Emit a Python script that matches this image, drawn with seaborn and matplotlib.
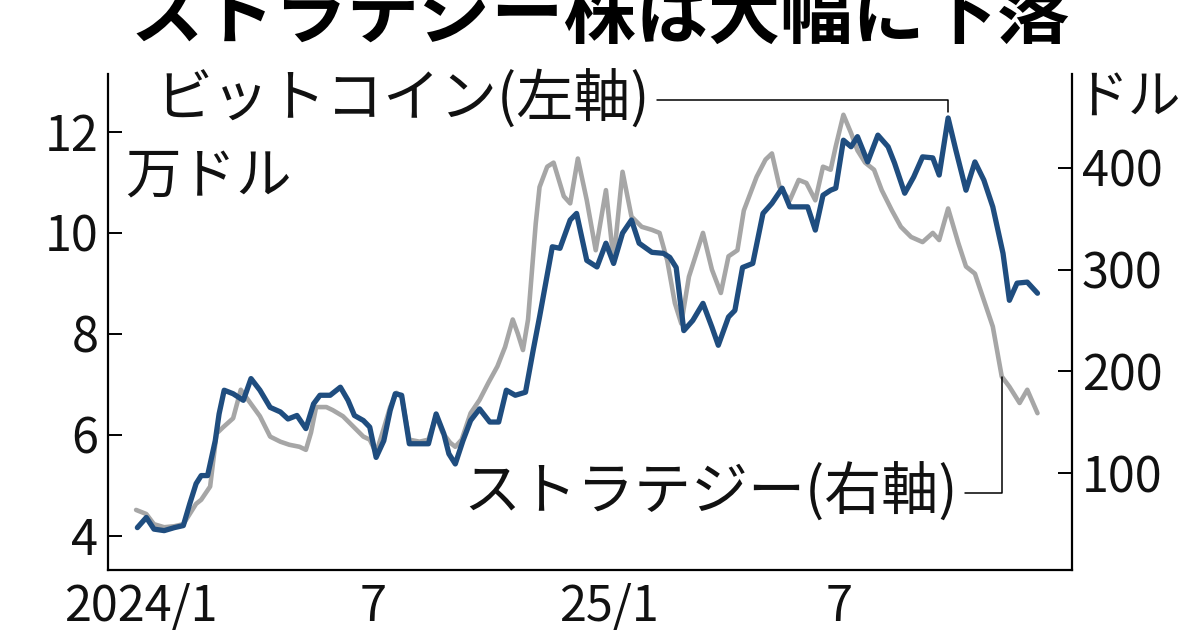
import numpy as np
import pandas as pd
import matplotlib
matplotlib.use("Agg")
import matplotlib.pyplot as plt
import seaborn as sns

# ---- data ----
base_date = "2024-01-01"
# Bitcoin (left axis, 10k USD): day offset from base_date, value
btc_day = [-3, 4, 10, 18, 26, 33, 38, 43, 47, 52,
           58, 61, 65, 72, 80, 86, 93, 101, 109, 115,
           122, 129, 135, 140, 148, 156, 162, 167, 174, 179,
           184, 190, 195, 199, 204, 210, 218, 225, 231, 237,
           241, 246, 252, 258, 265, 273, 280, 286, 293, 301,
           307, 312, 322, 328, 336, 341, 349, 357, 364, 370,
           377, 384, 390, 400, 409, 414, 419, 425, 432, 440,
           447, 452, 460, 465, 471, 479, 487, 494, 502, 508,
           516, 522, 528, 534, 540, 544, 550, 556, 561, 569,
           577, 585, 590, 598, 605, 612, 620, 625, 632, 638,
           646, 653, 660, 667, 675, 680, 686, 694, 702]
btc_val = [4.16, 4.36, 4.13, 4.10, 4.16, 4.20, 4.63, 5.03, 5.19, 5.19,
           5.88, 6.41, 6.88, 6.81, 6.68, 7.11, 6.88, 6.54, 6.45, 6.31,
           6.38, 6.12, 6.61, 6.78, 6.78, 6.94, 6.68, 6.38, 6.28, 6.15,
           5.55, 5.88, 6.48, 6.81, 6.78, 5.82, 5.82, 5.82, 6.41, 6.02,
           5.62, 5.42, 5.88, 6.28, 6.51, 6.25, 6.25, 6.88, 6.78, 6.84,
           7.67, 8.33, 9.72, 9.69, 10.25, 10.38, 9.45, 9.32, 9.79, 9.39,
           9.99, 10.25, 9.79, 9.61, 9.59, 9.51, 9.31, 8.06, 8.26, 8.60,
           8.13, 7.77, 8.33, 8.46, 9.31, 9.39, 10.38, 10.58, 10.88, 10.51,
           10.51, 10.51, 10.05, 10.74, 10.84, 10.88, 11.83, 11.70, 11.90, 11.40,
           11.93, 11.70, 11.38, 10.78, 11.10, 11.50, 11.48, 11.14, 12.27, 11.64,
           10.84, 11.40, 11.04, 10.51, 9.59, 8.66, 9.00, 9.02, 8.80]

# Strategy (right axis, USD)
mstr_day = [-4, 4, 10, 18, 26, 33, 38, 43, 47, 54,
            59, 64, 72, 78, 82, 93, 101, 109, 116, 124,
            129, 133, 137, 145, 150, 158, 166, 174, 179, 184,
            189, 195, 200, 204, 210, 218, 225, 231, 236, 242,
            246, 251, 258, 265, 272, 279, 285, 291, 295, 299,
            303, 309, 312, 318, 323, 331, 336, 342, 349, 356,
            364, 370, 377, 384, 392, 400, 406, 412, 418, 423,
            429, 440, 447, 454, 460, 467, 472, 482, 489, 494,
            500, 508, 515, 521, 528, 534, 540, 544, 550, 556,
            561, 567, 574, 580, 588, 595, 603, 612, 620, 625,
            632, 640, 646, 653, 660, 667, 674, 680, 688, 694,
            702]
mstr_val = [64, 60, 50, 47, 48, 50, 60, 70, 74, 87,
            139, 145, 154, 182, 175, 156, 136, 131, 128, 126,
            123, 140, 165, 165, 162, 156, 146, 136, 133, 120,
            140, 165, 179, 175, 133, 131, 133, 156, 140, 130,
            126, 133, 159, 172, 189, 205, 224, 251, 237, 221,
            251, 345, 381, 401, 405, 372, 365, 409, 368, 319,
            378, 309, 396, 352, 342, 339, 336, 309, 267, 247,
            293, 336, 300, 277, 313, 319, 358, 391, 408, 414,
            381, 368, 388, 385, 368, 401, 398, 421, 452, 434,
            417, 405, 398, 378, 358, 342, 332, 327, 336, 329,
            360, 326, 303, 296, 270, 244, 195, 185, 169, 182,
            159]

tick_dates = ["2024-01-01", "2024-07-01", "2025-01-01", "2025-07-01"]
tick_labels = ["2024/1", "7", "25/1", "7"]
left_ticks = [4, 6, 8, 10, 12]
right_ticks = [100, 200, 300, 400]

title = "ストラテジー株は大幅に下落"
btc_label = "ビットコイン(左軸)"
mstr_label = "ストラテジー(右軸)"

# ---- build frames ----
t0 = pd.Timestamp(base_date)
btc = pd.DataFrame({"date": t0 + pd.to_timedelta(btc_day, unit="D"), "value": btc_val})
mstr = pd.DataFrame({"date": t0 + pd.to_timedelta(mstr_day, unit="D"), "value": mstr_val})

sns.set_style("white")
plt.rcParams["font.family"] = ["Noto Sans CJK JP", "DejaVu Sans"]

BLUE = "#1f4d7f"
GRAY = "#a6a6a6"

fig = plt.figure(figsize=(12, 6.3), dpi=100)
ax = fig.add_axes([0.09, 0.0952, 0.8033, 0.7873])
ax2 = ax.twinx()

sns.lineplot(data=mstr, x="date", y="value", ax=ax2, color=GRAY, linewidth=3.3,
             estimator=None, legend=False)
sns.lineplot(data=btc, x="date", y="value", ax=ax, color=BLUE, linewidth=3.8,
             estimator=None, legend=False)

ax.set_zorder(ax2.get_zorder() + 1)
ax.patch.set_visible(False)

ax.set_xlim(t0 + pd.Timedelta(days=-26), t0 + pd.Timedelta(days=729))
ax.set_ylim(3.32, 13.14)
ax2.set_ylim(5, 492)

ax.set_xticks(pd.to_datetime(tick_dates))
ax.set_xticklabels(tick_labels)
ax.set_yticks(left_ticks)
ax.set_yticklabels([str(v) for v in left_ticks])
ax2.set_yticks(right_ticks)
ax2.set_yticklabels([str(v) for v in right_ticks])

for a in (ax, ax2):
    a.set_xlabel("")
    a.set_ylabel("")
    a.spines["top"].set_visible(False)
    for s in a.spines.values():
        s.set_linewidth(1.6)
        s.set_color("black")

ax.spines["right"].set_visible(False)
ax2.spines["left"].set_visible(False)
ax2.spines["bottom"].set_visible(False)

ax.tick_params(axis="both", direction="in", length=10, width=1.4, color="black",
               labelsize=35, labelcolor="#111111")
ax.tick_params(axis="y", pad=7)
ax.tick_params(axis="x", pad=9)
ax2.tick_params(axis="y", direction="in", length=10, width=1.4, color="black",
                labelsize=35, labelcolor="#111111", pad=7)

# unit labels
ax.text(0.0176, 0.79, "万ドル", transform=ax.transAxes, fontsize=40,
        ha="left", va="center", color="#111111")
fig.text(0.896, 0.846, "ドル", fontsize=38, ha="left", va="center", color="#111111")

# title (partly cut at the top, as in the reference)
fig.text(0.5, 0.94, title, fontsize=52, fontweight="bold", ha="center",
         va="baseline", color="black")

# callouts
ipk = int(np.argmax(btc["value"].values))
ax.annotate(btc_label, xy=(btc["date"].iloc[ipk], btc["value"].iloc[ipk]),
            xycoords="data", xytext=(0.0488, 0.9476), textcoords="axes fraction",
            fontsize=41, ha="left", va="center", color="#111111",
            annotation_clip=False,
            arrowprops=dict(arrowstyle="-", color="black", lw=1.1,
                            connectionstyle="angle,angleA=0,angleB=90,rad=0",
                            relpos=(1, 0.5), shrinkA=3, shrinkB=4))

ims = mstr_day.index(674)
ax2.annotate(mstr_label, xy=(mstr["date"].iloc[ims], mstr["value"].iloc[ims]),
             xycoords="data", xytext=(0.8817, 0.155), textcoords="axes fraction",
             fontsize=41, ha="right", va="center", color="#111111",
             annotation_clip=False,
             arrowprops=dict(arrowstyle="-", color="black", lw=1.1,
                             connectionstyle="angle,angleA=0,angleB=90,rad=0",
                             relpos=(1, 0.5), shrinkA=3, shrinkB=0))

fig.savefig("out.png", dpi=100)
